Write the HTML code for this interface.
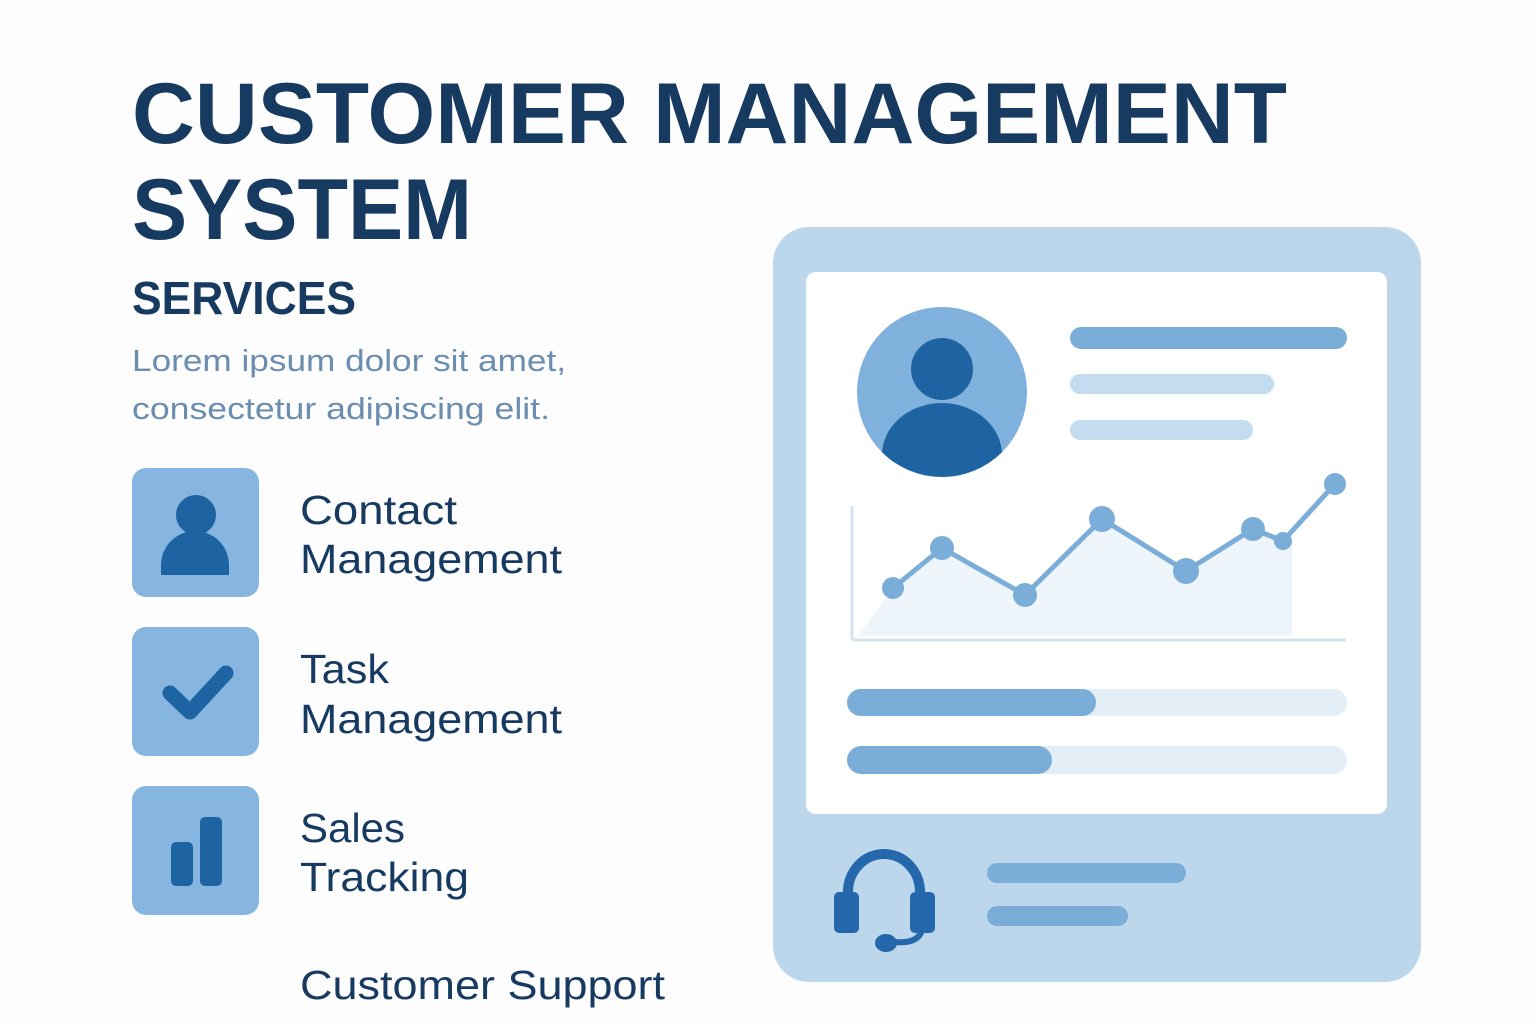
<!DOCTYPE html>
<html><head><meta charset="utf-8"><style>html,body{margin:0;padding:0;background:#fdfdfe}svg{display:block}</style></head><body>
<svg width="1536" height="1024" viewBox="0 0 1536 1024" xmlns="http://www.w3.org/2000/svg" font-family="Liberation Sans, sans-serif">
<rect width="1536" height="1024" fill="#fdfdfe"/>
<g fill="#173a60" font-weight="bold">
<text x="132" y="143" font-size="86" textLength="1155" lengthAdjust="spacingAndGlyphs">CUSTOMER MANAGEMENT</text>
<text x="132" y="239" font-size="86" textLength="340" lengthAdjust="spacingAndGlyphs">SYSTEM</text>
<text x="132" y="314" font-size="46" textLength="224" lengthAdjust="spacingAndGlyphs">SERVICES</text>
</g>
<g fill="#6b8db0" font-size="31">
<text x="132" y="371" textLength="434" lengthAdjust="spacingAndGlyphs">Lorem ipsum dolor sit amet,</text>
<text x="132" y="419" textLength="418" lengthAdjust="spacingAndGlyphs">consectetur adipiscing elit.</text>
</g>
<g fill="#173a60" font-size="41">
<text x="300" y="524" textLength="157" lengthAdjust="spacingAndGlyphs">Contact</text>
<text x="300" y="573" textLength="262" lengthAdjust="spacingAndGlyphs">Management</text>
<text x="300" y="683" textLength="89" lengthAdjust="spacingAndGlyphs">Task</text>
<text x="300" y="733" textLength="262" lengthAdjust="spacingAndGlyphs">Management</text>
<text x="300" y="842" textLength="105" lengthAdjust="spacingAndGlyphs">Sales</text>
<text x="300" y="891" textLength="169" lengthAdjust="spacingAndGlyphs">Tracking</text>
<text x="300" y="999" textLength="365" lengthAdjust="spacingAndGlyphs">Customer Support</text>
</g>
<!-- icons -->
<g fill="#86b6df">
<rect x="132" y="468" width="127" height="129" rx="14"/>
<rect x="132" y="627" width="127" height="129" rx="14"/>
<rect x="132" y="786" width="127" height="129" rx="14"/>
</g>
<g fill="#1e63a2">
<circle cx="196" cy="515" r="20"/>
<path d="M161 575 V565 a34 34 0 0 1 68 0 V575 Z"/>
<rect x="171" y="842" width="22" height="44" rx="5"/>
<rect x="200" y="817" width="22" height="69" rx="5"/>
</g>
<polyline points="170,693 190,712 226,673" fill="none" stroke="#1e63a2" stroke-width="15" stroke-linecap="round" stroke-linejoin="round"/>
<!-- right panel -->
<rect x="773" y="227" width="648" height="755" rx="36" fill="#bcd7ec"/>
<rect x="806" y="272" width="581" height="542" rx="10" fill="#ffffff"/>
<circle cx="942" cy="392" r="85" fill="#7fb1dc"/>
<clipPath id="c"><circle cx="942" cy="392" r="85"/></clipPath>
<g fill="#1e63a2" clip-path="url(#c)">
<circle cx="942" cy="369" r="31"/>
<path d="M882 480 V455 a60 52 0 0 1 120 0 V480 Z"/>
</g>
<rect x="1070" y="327" width="277" height="22" rx="11" fill="#7aaed9"/>
<rect x="1070" y="374" width="204" height="20" rx="10" fill="#c4dcef"/>
<rect x="1070" y="420" width="183" height="20" rx="10" fill="#c4dcef"/>
<path d="M858 636 L893 588 L942 548 L1025 595 L1102 519 L1186 571 L1253 529 L1283 541 L1292 541 L1292 636 Z" fill="#eef5fb"/>
<line x1="852" y1="506" x2="852" y2="640" stroke="#d4e4f1" stroke-width="3"/>
<line x1="852" y1="640" x2="1346" y2="640" stroke="#d4e4f1" stroke-width="3"/>
<polyline points="893,588 942,548 1025,595 1102,519 1186,571 1253,529 1283,541 1335,484" fill="none" stroke="#7aaed9" stroke-width="5" stroke-linejoin="round"/>
<g fill="#7aaed9">
<circle cx="893" cy="588" r="11"/><circle cx="942" cy="548" r="12"/><circle cx="1025" cy="595" r="12"/><circle cx="1102" cy="519" r="13"/><circle cx="1186" cy="571" r="13"/><circle cx="1253" cy="529" r="12"/><circle cx="1283" cy="541" r="9"/><circle cx="1335" cy="484" r="11"/>
</g>
<rect x="847" y="689" width="500" height="27" rx="13.5" fill="#e3eef7"/>
<rect x="847" y="689" width="249" height="27" rx="13.5" fill="#7aaed9"/>
<rect x="847" y="746" width="500" height="28" rx="14" fill="#e3eef7"/>
<rect x="847" y="746" width="205" height="28" rx="14" fill="#7aaed9"/>
<!-- headset -->
<path d="M848 900 V892 a36 38 0 0 1 72 0 V900" fill="none" stroke="#2468ab" stroke-width="10"/>
<rect x="834" y="892" width="25" height="41" rx="5" fill="#2468ab"/>
<rect x="910" y="892" width="25" height="41" rx="5" fill="#2468ab"/>
<path d="M922 930 Q918 944 895 942" fill="none" stroke="#2468ab" stroke-width="6" stroke-linecap="round"/>
<ellipse cx="886" cy="943" rx="11" ry="9" fill="#2468ab"/>
<rect x="987" y="863" width="199" height="20" rx="10" fill="#7aaed9"/>
<rect x="987" y="906" width="141" height="20" rx="10" fill="#7aaed9"/>
</svg>
</body></html>
